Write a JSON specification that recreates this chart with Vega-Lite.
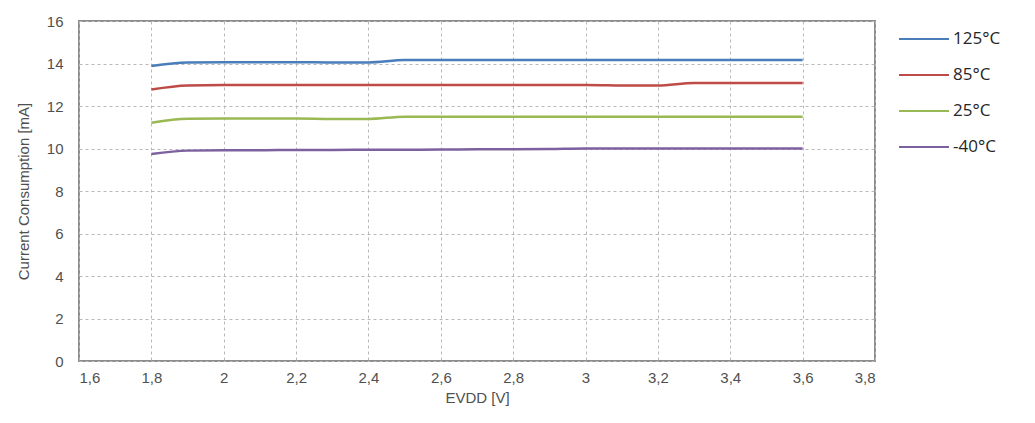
{
  "$schema": "https://vega.github.io/schema/vega-lite/v6.json",
  "width": 796,
  "height": 340,
  "autosize": {"type": "none"},
  "padding": {"left": 79, "top": 21, "right": 160, "bottom": 62},
  "background": "white",
  "config": {
    "font": "Liberation Sans",
    "view": {"stroke": "#8c8c8c", "strokeWidth": 2}
  },
  "data": {
    "values": [
      {"v": 1.8, "t": "125°C", "i": 13.88}, {"v": 1.9, "t": "125°C", "i": 14.05}, {"v": 2.0, "t": "125°C", "i": 14.06}, {"v": 2.1, "t": "125°C", "i": 14.06}, {"v": 2.2, "t": "125°C", "i": 14.06}, {"v": 2.3, "t": "125°C", "i": 14.05}, {"v": 2.4, "t": "125°C", "i": 14.05}, {"v": 2.5, "t": "125°C", "i": 14.16}, {"v": 2.6, "t": "125°C", "i": 14.16}, {"v": 2.7, "t": "125°C", "i": 14.16}, {"v": 2.8, "t": "125°C", "i": 14.16}, {"v": 2.9, "t": "125°C", "i": 14.16}, {"v": 3.0, "t": "125°C", "i": 14.16}, {"v": 3.1, "t": "125°C", "i": 14.16}, {"v": 3.2, "t": "125°C", "i": 14.16}, {"v": 3.3, "t": "125°C", "i": 14.16}, {"v": 3.4, "t": "125°C", "i": 14.16}, {"v": 3.5, "t": "125°C", "i": 14.16}, {"v": 3.6, "t": "125°C", "i": 14.16},
      {"v": 1.8, "t": "85°C", "i": 12.78}, {"v": 1.9, "t": "85°C", "i": 12.97}, {"v": 2.0, "t": "85°C", "i": 12.99}, {"v": 2.1, "t": "85°C", "i": 12.99}, {"v": 2.2, "t": "85°C", "i": 12.99}, {"v": 2.3, "t": "85°C", "i": 12.99}, {"v": 2.4, "t": "85°C", "i": 12.99}, {"v": 2.5, "t": "85°C", "i": 12.99}, {"v": 2.6, "t": "85°C", "i": 12.99}, {"v": 2.7, "t": "85°C", "i": 12.99}, {"v": 2.8, "t": "85°C", "i": 12.99}, {"v": 2.9, "t": "85°C", "i": 12.99}, {"v": 3.0, "t": "85°C", "i": 12.99}, {"v": 3.1, "t": "85°C", "i": 12.97}, {"v": 3.2, "t": "85°C", "i": 12.96}, {"v": 3.3, "t": "85°C", "i": 13.08}, {"v": 3.4, "t": "85°C", "i": 13.08}, {"v": 3.5, "t": "85°C", "i": 13.08}, {"v": 3.6, "t": "85°C", "i": 13.08},
      {"v": 1.8, "t": "25°C", "i": 11.21}, {"v": 1.9, "t": "25°C", "i": 11.4}, {"v": 2.0, "t": "25°C", "i": 11.41}, {"v": 2.1, "t": "25°C", "i": 11.41}, {"v": 2.2, "t": "25°C", "i": 11.41}, {"v": 2.3, "t": "25°C", "i": 11.39}, {"v": 2.4, "t": "25°C", "i": 11.39}, {"v": 2.5, "t": "25°C", "i": 11.5}, {"v": 2.6, "t": "25°C", "i": 11.5}, {"v": 2.7, "t": "25°C", "i": 11.5}, {"v": 2.8, "t": "25°C", "i": 11.5}, {"v": 2.9, "t": "25°C", "i": 11.5}, {"v": 3.0, "t": "25°C", "i": 11.5}, {"v": 3.1, "t": "25°C", "i": 11.5}, {"v": 3.2, "t": "25°C", "i": 11.5}, {"v": 3.3, "t": "25°C", "i": 11.5}, {"v": 3.4, "t": "25°C", "i": 11.5}, {"v": 3.5, "t": "25°C", "i": 11.5}, {"v": 3.6, "t": "25°C", "i": 11.5},
      {"v": 1.8, "t": "-40°C", "i": 9.74}, {"v": 1.9, "t": "-40°C", "i": 9.9}, {"v": 2.0, "t": "-40°C", "i": 9.92}, {"v": 2.1, "t": "-40°C", "i": 9.92}, {"v": 2.2, "t": "-40°C", "i": 9.93}, {"v": 2.3, "t": "-40°C", "i": 9.93}, {"v": 2.4, "t": "-40°C", "i": 9.94}, {"v": 2.5, "t": "-40°C", "i": 9.94}, {"v": 2.6, "t": "-40°C", "i": 9.95}, {"v": 2.7, "t": "-40°C", "i": 9.96}, {"v": 2.8, "t": "-40°C", "i": 9.97}, {"v": 2.9, "t": "-40°C", "i": 9.98}, {"v": 3.0, "t": "-40°C", "i": 10.0}, {"v": 3.1, "t": "-40°C", "i": 10.0}, {"v": 3.2, "t": "-40°C", "i": 10.0}, {"v": 3.3, "t": "-40°C", "i": 10.0}, {"v": 3.4, "t": "-40°C", "i": 10.0}, {"v": 3.5, "t": "-40°C", "i": 10.0}, {"v": 3.6, "t": "-40°C", "i": 10.0}
    ]
  },
  "mark": {"type": "line", "strokeWidth": 2.5, "interpolate": "monotone"},
  "encoding": {
    "x": {
      "field": "v", "type": "quantitative",
      "scale": {"domain": [1.6, 3.8], "nice": false, "zero": false},
      "axis": {
        "values": [1.6, 1.8, 2.0, 2.2, 2.4, 2.6, 2.8, 3.0, 3.2, 3.4, 3.6, 3.8],
        "labelExpr": "replace(toString(round(datum.value*10)/10), '.', ',')",
        "title": "EVDD [V]",
        "titleFont": "Liberation Sans", "titleFontWeight": "normal", "titleFontSize": 15, "titleColor": "#505050",
        "titlePadding": 5,
        "labelFontSize": 15, "labelColor": "#505050", "labelPadding": 9,
        "domain": false, "ticks": false,
        "grid": true, "gridColor": "#b8b8b8", "gridDash": [3, 3], "gridWidth": 1
      }
    },
    "y": {
      "field": "i", "type": "quantitative",
      "scale": {"domain": [0, 16], "nice": false},
      "axis": {
        "values": [0, 2, 4, 6, 8, 10, 12, 14, 16],
        "title": "Current Consumption [mA]",
        "titleFontWeight": "normal", "titleFontSize": 15, "titleColor": "#505050",
        "titleAngle": -90, "titleX": -56, "titleY": 170, "titleAlign": "center", "titleBaseline": "middle",
        "labelFontSize": 15, "labelColor": "#505050", "labelPadding": 16,
        "domain": false, "ticks": false,
        "grid": true, "gridColor": "#b8b8b8", "gridDash": [3, 3], "gridWidth": 1
      }
    },
    "color": {
      "field": "t", "type": "nominal",
      "scale": {"domain": ["125°C", "85°C", "25°C", "-40°C"], "range": ["#4a7ebb", "#be4b48", "#98b954", "#7d60a0"]},
      "legend": {
        "title": null, "orient": "none", "legendX": 819, "legendY": -8,
        "symbolType": "stroke", "symbolSize": 2500, "symbolStrokeWidth": 2,
        "labelFont": "Open Sans", "labelFontSize": 17, "labelColor": "#262626",
        "rowPadding": 2, "labelOffset": 3
      }
    }
  }
}
